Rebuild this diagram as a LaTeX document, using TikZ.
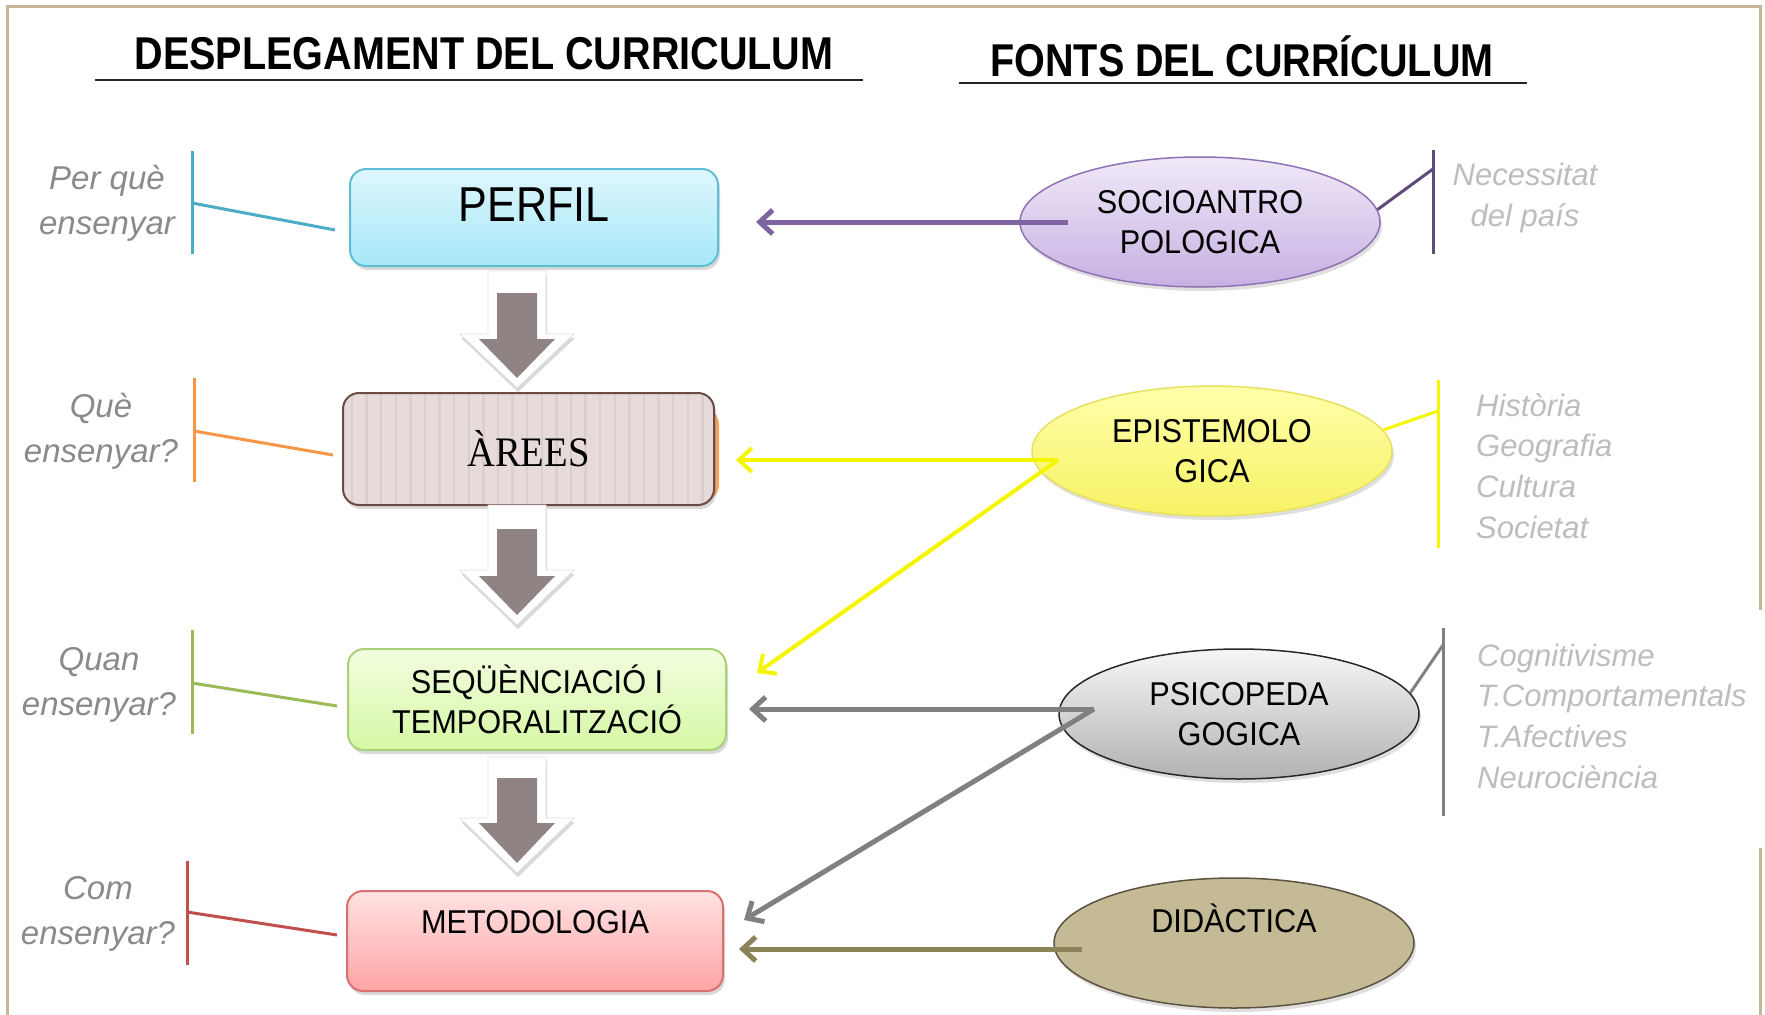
\documentclass[tikz,border=0pt]{standalone}
\usepackage{fontspec}
\setmainfont{Liberation Sans}
\newfontfamily\titlefont[FakeStretch=0.86]{Liberation Sans Bold}
\newfontfamily\bodyfont[FakeStretch=0.93]{Liberation Sans}
\newfontfamily\perfilfont[FakeStretch=0.88]{Liberation Sans}
\newfontfamily\serifnarrow[FakeStretch=0.92]{Liberation Serif}
\usetikzlibrary{shapes.geometric,arrows.meta,shadows,calc}

\definecolor{framec}{HTML}{C3B798}
\definecolor{aqua}{HTML}{4BACC6}
\definecolor{orangeA}{HTML}{F79646}
\definecolor{greenA}{HTML}{9BBB59}
\definecolor{redA}{HTML}{C0504D}
\definecolor{purpleA}{HTML}{8064A2}
\definecolor{purpleD}{HTML}{604A7B}
\definecolor{yellowA}{HTML}{F5F500}
\definecolor{grayA}{HTML}{808080}
\definecolor{khakiA}{HTML}{8C8458}
\definecolor{arrowgray}{HTML}{8F8383}
\definecolor{qgray}{HTML}{8A8A8A}
\definecolor{sgray}{HTML}{BDBDBD}
\definecolor{perfilTop}{HTML}{DFF6FC}
\definecolor{perfilBot}{HTML}{A6E8F9}
\definecolor{perfilLine}{HTML}{5FBDD5}
\definecolor{areasFill}{HTML}{E7DADA}
\definecolor{areasLine}{HTML}{6B4A48}
\definecolor{areasStripe}{HTML}{DDCDCD}
\definecolor{seqTop}{HTML}{F2FDE0}
\definecolor{seqBot}{HTML}{D6F8A4}
\definecolor{seqLine}{HTML}{A9D178}
\definecolor{metoTop}{HTML}{FFE2E2}
\definecolor{metoBot}{HTML}{FFA4A4}
\definecolor{metoLine}{HTML}{D97171}
\definecolor{socTop}{HTML}{F0E9F8}
\definecolor{socBot}{HTML}{C6B0E2}
\definecolor{socLine}{HTML}{8F72B4}
\definecolor{epiTop}{HTML}{FFFFAA}
\definecolor{epiBot}{HTML}{F7F264}
\definecolor{epiLine}{HTML}{E8E060}
\definecolor{psiTop}{HTML}{F6F6F6}
\definecolor{psiBot}{HTML}{B2B2B2}
\definecolor{psiLine}{HTML}{282828}
\definecolor{didFill}{HTML}{C4BA96}
\definecolor{didLine}{HTML}{5C5240}

\newcommand\downblock[6]{%
  \fill[white, draw=black!12, line width=0.8pt,
        drop shadow={shadow xshift=1pt, shadow yshift=-4pt, opacity=0.3}]
    (488,#1) -- (546,#1) -- (546,#2) -- (574,#2) -- (517,#3) -- (460,#2) -- (488,#2) -- cycle;
  \fill[arrowgray] (497,#4) -- (537,#4) -- (537,#5) -- (555,#5) -- (517,#6) -- (479,#5) -- (497,#5) -- cycle;}

\begin{document}
\begin{tikzpicture}[x=1pt,y=-1pt,
  box/.style={rectangle, rounded corners=16pt, line width=2pt, inner sep=0pt,
    drop shadow={shadow xshift=2pt, shadow yshift=-4pt, opacity=0.3}},
  oval/.style={ellipse, inner sep=0pt, line width=1.5pt, minimum width=360pt, minimum height=130pt,
    drop shadow={shadow xshift=2pt, shadow yshift=-4pt, opacity=0.25}},
  bodytxt/.style={font=\bodyfont\fontsize{33}{40}\selectfont, align=center, text=black, inner sep=0pt},
  titletxt/.style={font=\titlefont\fontsize{46}{50}\selectfont, text=black, inner sep=0pt},
  qlabel/.style={font=\fontsize{33}{45}\selectfont\itshape, text=qgray, align=center, inner sep=0pt},
  slabel/.style={font=\fontsize{31}{40.7}\selectfont\itshape, text=sgray, inner sep=0pt},
  conn/.style={line width=5pt, -{Straight Barb[length=13pt,width=24pt]}},
  bracket/.style={line width=3pt},
]
\useasboundingbox (0,0) rectangle (1765,1015);

% frame
\draw[framec, line width=3pt] (7,1015) -- (7,6) -- (1760,6) -- (1760,610);
\draw[framec, line width=3pt] (1760,848) -- (1760,1015);

% titles
\node[titletxt] (t1) at (484,54) {DESPLEGAMENT DEL CURRICULUM};
\node[titletxt] (t2) at (1242,56) {FONTS DEL CURRÍCULUM};
\draw[line width=2pt, black!85] (95,80) -- (863,80);
\draw[line width=2pt, black!85] (959,83) -- (1527,83);

% left boxes
\node[box, minimum width=368pt, minimum height=97pt,
      top color=perfilTop, bottom color=perfilBot, draw=perfilLine] (perfil) at (534,217.5) {};
\node[font=\perfilfont\fontsize{49}{55}\selectfont, inner sep=0pt] (perfilt) at (534,205) {PERFIL};

\fill[orangeA!85, rounded corners=16pt] (400,408) rectangle (719,501);
\node[box, draw=areasLine, fill=areasFill,
      minimum width=371pt, minimum height=112pt,
      path picture={\foreach \k in {0,...,25}
        \draw[areasStripe, line width=2.5pt]
          ([xshift=\k*14.6pt+9pt]path picture bounding box.north west) --
          ([xshift=\k*14.6pt+9pt]path picture bounding box.south west);}] (areas) at (528.5,449)
  {\serifnarrow\fontsize{42}{46}\selectfont ÀREES};

\node[box, minimum width=378pt, minimum height=101pt,
      top color=seqTop, bottom color=seqBot, draw=seqLine, bodytxt] (seq) at (537,699.5)
  {SEQÜÈNCIACIÓ I\\TEMPORALITZACIÓ};

\node[box, minimum width=376pt, minimum height=100pt,
      top color=metoTop, bottom color=metoBot, draw=metoLine] (meto) at (535,941) {};
\node[bodytxt] (metot) at (535,922) {METODOLOGIA};

% down block arrows
\downblock{271}{334}{388}{293}{339}{378}
\downblock{505}{570}{625}{529}{576}{615}
\downblock{757}{818}{873}{778}{823}{863}

% left question labels and brackets
\node[qlabel] (q1) at (107,203) {Per què\\ensenyar};
\draw[bracket, aqua] (192,151) -- (192,254);
\coordinate (q1a) at (192,203); \coordinate (q1b) at (335,230);
\draw[bracket, aqua] (q1a) -- (q1b);

\node[qlabel] (q2) at (101,431) {Què\\ensenyar?};
\draw[bracket, orangeA] (194,378) -- (194,482);
\coordinate (q2a) at (194,431); \coordinate (q2b) at (333,455);
\draw[bracket, orangeA] (q2a) -- (q2b);

\node[qlabel] (q3) at (99,685) {Quan\\ensenyar?};
\draw[bracket, greenA] (192,630) -- (192,734);
\coordinate (q3a) at (192,683); \coordinate (q3b) at (337,706);
\draw[bracket, greenA] (q3a) -- (q3b);

\node[qlabel] (q4) at (98,914) {Com\\ensenyar?};
\draw[bracket, redA] (187,861) -- (187,965);
\coordinate (q4a) at (187,912); \coordinate (q4b) at (337,935);
\draw[bracket, redA] (q4a) -- (q4b);

% right ellipses
\node[oval, top color=socTop, bottom color=socBot, draw=socLine, bodytxt] (socio) at (1200,222) {SOCIOANTRO\\POLOGICA};
\node[oval, top color=epiTop, bottom color=epiBot, draw=epiLine, bodytxt] (epi) at (1212,451) {EPISTEMOLO\\GICA};
\node[oval, top color=psiTop, bottom color=psiBot, draw=psiLine, bodytxt] (psi) at (1239,714) {PSICOPEDA\\GOGICA};
\node[oval, fill=didFill, draw=didLine] (did) at (1234,943) {};
\node[bodytxt] (didt) at (1234,918) {DIDÀCTICA};

% right brackets and labels
\coordinate (r1a) at (1433,169);
\draw[bracket, purpleD] (1433,150) -- (1433,254);
\draw[bracket, purpleD] (socio.4) -- (r1a);
\node[slabel, align=center] (r1t) at (1525,198) {Necessitat\\del país};

\coordinate (r2a) at (1438,411);
\draw[bracket, yellowA] (1438,380) -- (1438,548);
\draw[bracket, yellowA] (epi.7) -- (r2a);
\node[slabel, anchor=west, align=left] (r2t) at (1476,466) {Història\\Geografia\\Cultura\\Societat};

\coordinate (r3a) at (1443,645);
\draw[bracket, grayA] (1443,628) -- (1443,816);
\draw[bracket, grayA] (psi.7) -- (r3a);
\node[slabel, anchor=west, align=left] (r3t) at (1477,716) {Cognitivisme\\T.Comportamentals\\T.Afectives\\Neurociència};

% connectors
\draw[conn, purpleA] ($(socio.center)+(-132,0)$) -- ($(perfil.east)+(37,4.5)$);
\draw[conn, yellowA, line width=4pt] ($(epi.center)+(-154,9)$) -- ($(areas.east)+(21,11)$);
\draw[conn, yellowA, line width=4pt] ($(epi.center)+(-154,9)$) -- ($(seq.east)+(30,-26.5)$);
\draw[conn, grayA] ($(psi.center)+(-145,-5)$) -- ($(seq.east)+(22,9.5)$);
\draw[conn, grayA] ($(psi.center)+(-145,-5)$) -- ($(meto.east)+(20,-21)$);
\draw[conn, khakiA] ($(did.center)+(-152,6)$) -- ($(meto.east)+(15,8)$);
\end{tikzpicture}
\end{document}
